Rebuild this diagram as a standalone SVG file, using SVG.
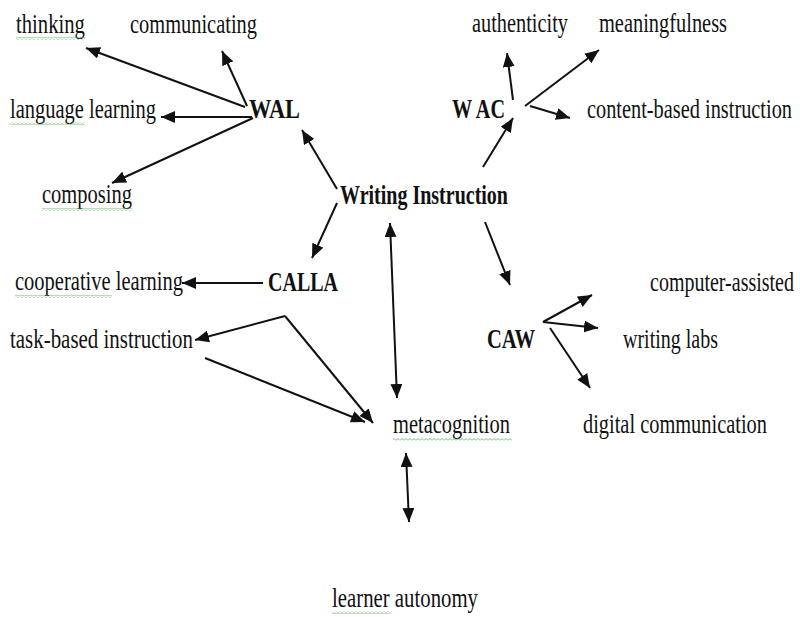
<svg xmlns="http://www.w3.org/2000/svg" width="800" height="617" viewBox="0 0 800 617">
<style>
text{font-family:"Liberation Serif","Times New Roman",serif;font-size:28px;fill:#111}
.b{font-weight:bold}
.c line{stroke:#111;stroke-width:2;marker-end:url(#ah)}
.c line.d{marker-start:url(#ah)}
.w{fill:url(#wave)}
</style>
<defs>
<marker id="ah" markerUnits="userSpaceOnUse" markerWidth="15" markerHeight="12" refX="14" refY="6" orient="auto-start-reverse" viewBox="0 0 15 12">
<path d="M0,0 L14,6 L0,12 z" fill="#111"/>
</marker>
<pattern id="wave" patternUnits="userSpaceOnUse" width="4" height="3">
<path d="M0,2.5 L2,0.5 L4,2.5" fill="none" stroke="#5cb85c" stroke-width="0.9"/>
</pattern>
</defs>
<rect width="800" height="617" fill="#fff"/>
<g id="connectors" class="c">
<line x1="245" y1="107" x2="86" y2="48"/>
<line x1="247" y1="106" x2="222" y2="51"/>
<line x1="252" y1="117" x2="161" y2="117"/>
<line x1="253" y1="118" x2="112" y2="183"/>
<line x1="337" y1="189" x2="302" y2="130"/>
<line x1="483" y1="167" x2="513" y2="118"/>
<line x1="513" y1="100" x2="507" y2="53"/>
<line x1="525" y1="106" x2="599" y2="50"/>
<line x1="530" y1="106" x2="570" y2="118"/>
<line x1="337" y1="203" x2="312" y2="258"/>
<line x1="263" y1="283" x2="182" y2="283"/>
<line x1="285" y1="316" x2="195" y2="340"/>
<line x1="285" y1="316" x2="373" y2="423"/>
<line x1="205" y1="358" x2="365" y2="422"/>
<line class="d" x1="390" y1="223" x2="397" y2="398"/>
<line x1="485" y1="222" x2="510" y2="285"/>
<line x1="543" y1="322" x2="592" y2="295"/>
<line x1="543" y1="322" x2="598" y2="328"/>
<line x1="550" y1="328" x2="590" y2="388"/>
<line class="d" x1="406" y1="453" x2="409" y2="522"/>
</g>
<g id="writing-instruction"><text class="b" transform="matrix(0.74 0 0 1 340 204)" textLength="227" lengthAdjust="spacingAndGlyphs">Writing Instruction</text></g>
<g id="wal"><text class="b" transform="matrix(0.74 0 0 1 249 118)" textLength="68.9" lengthAdjust="spacingAndGlyphs">WAL</text></g>
<g id="thinking"><text transform="matrix(0.74 0 0 1 16 33)" textLength="93.2" lengthAdjust="spacingAndGlyphs">thinking</text><rect class="w" x="16" y="37" width="69" height="3"/></g>
<g id="communicating"><text transform="matrix(0.74 0 0 1 130 33)" textLength="171.6" lengthAdjust="spacingAndGlyphs">communicating</text></g>
<g id="language-learning"><text transform="matrix(0.74 0 0 1 10 118)" textLength="197.3" lengthAdjust="spacingAndGlyphs">language learning</text><rect class="w" x="10" y="122" width="75" height="3"/></g>
<g id="composing"><text transform="matrix(0.74 0 0 1 42 203)" textLength="121.6" lengthAdjust="spacingAndGlyphs">composing</text><rect class="w" x="42" y="208" width="90" height="3"/></g>
<g id="wac"><text class="b" transform="matrix(0.74 0 0 1 452 118)" textLength="71.6" lengthAdjust="spacingAndGlyphs">W AC</text></g>
<g id="authenticity"><text transform="matrix(0.74 0 0 1 472 32)" textLength="129.7" lengthAdjust="spacingAndGlyphs">authenticity</text></g>
<g id="meaningfulness"><text transform="matrix(0.74 0 0 1 599 32)" textLength="173" lengthAdjust="spacingAndGlyphs">meaningfulness</text></g>
<g id="content-based"><text transform="matrix(0.74 0 0 1 587 118)" textLength="277" lengthAdjust="spacingAndGlyphs">content-based instruction</text></g>
<g id="calla"><text class="b" transform="matrix(0.74 0 0 1 268 291)" textLength="94.6" lengthAdjust="spacingAndGlyphs">CALLA</text></g>
<g id="cooperative-learning"><text transform="matrix(0.74 0 0 1 15 290)" textLength="227" lengthAdjust="spacingAndGlyphs">cooperative learning</text><rect class="w" x="15" y="295" width="97" height="3"/></g>
<g id="task-based"><text transform="matrix(0.74 0 0 1 10 348)" textLength="247.3" lengthAdjust="spacingAndGlyphs">task-based instruction</text></g>
<g id="caw"><text class="b" transform="matrix(0.74 0 0 1 487 348)" textLength="64.9" lengthAdjust="spacingAndGlyphs">CAW</text></g>
<g id="computer-assisted"><text transform="matrix(0.74 0 0 1 650 291)" textLength="194.6" lengthAdjust="spacingAndGlyphs">computer-assisted</text></g>
<g id="writing-labs"><text transform="matrix(0.74 0 0 1 623 348)" textLength="128.4" lengthAdjust="spacingAndGlyphs">writing labs</text></g>
<g id="digital-communication"><text transform="matrix(0.74 0 0 1 583 433)" textLength="248.6" lengthAdjust="spacingAndGlyphs">digital communication</text></g>
<g id="metacognition"><text transform="matrix(0.74 0 0 1 393 433)" textLength="158.1" lengthAdjust="spacingAndGlyphs">metacognition</text><rect class="w" x="393" y="438" width="119" height="3"/></g>
<g id="learner-autonomy"><text transform="matrix(0.74 0 0 1 332 607)" textLength="197.3" lengthAdjust="spacingAndGlyphs">learner autonomy</text><rect class="w" x="332" y="611" width="58" height="3"/></g>
</svg>
